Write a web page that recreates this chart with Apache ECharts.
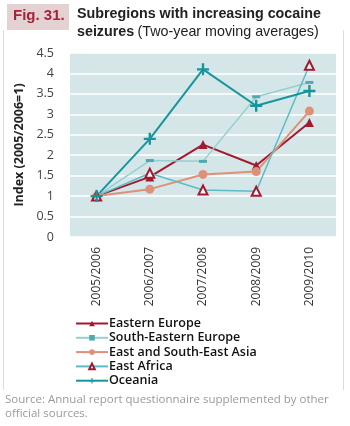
<!DOCTYPE html>
<html>
<head>
<meta charset="utf-8">
<script src="https://cdn.jsdelivr.net/npm/echarts@6/dist/echarts.min.js"></script>
<style>
    html, body { margin: 0; padding: 0; background: #fff; }
    #chart { width: 350px; height: 426px; }
</style>
</head>
<body>
<div id="chart"></div>
<script>
    // data
    var years = ['2005/2006', '2006/2007', '2007/2008', '2008/2009', '2009/2010'];
    var easternEurope = [1, 1.47, 2.26, 1.75, 2.80];
    var southEasternEurope = [1, 1.87, 1.85, 3.43, 3.78];
    var eastAsia = [1, 1.17, 1.53, 1.60, 3.08];
    var eastAfrica = [1, 1.56, 1.15, 1.12, 4.20];
    var oceania = [1, 2.40, 4.10, 3.21, 3.57];
    var yTicks = { min: 0, max: 4.5, interval: 0.5 };

    var plus = 'path://M-1.2,-6h2.4v4.8h4.8v2.4h-4.8v4.8h-2.4v-4.8h-4.8v-2.4h4.8z';

    var chart = echarts.init(document.getElementById('chart'));
    var option = {
        animation: false,
        textStyle: { fontFamily: 'Open Sans' },
        graphic: [
            // figure frame
            { type: 'line', shape: { x1: 3.5, y1: 30, x2: 3.5, y2: 390 }, style: { stroke: '#ddd', lineWidth: 1 } },
            { type: 'line', shape: { x1: 343.5, y1: 30, x2: 343.5, y2: 390 }, style: { stroke: '#ddd', lineWidth: 1 } },
            { type: 'rect', shape: { x: 7, y: 4, width: 62, height: 26 }, style: { fill: '#e3d2d1' } },
            { type: 'text', left: 13, top: 8, style: { text: 'Fig. 31.', font: 'bold 15px "Liberation Sans"', fill: '#a8233a' } },
            { type: 'text', left: 77, top: 7, style: { text: 'Subregions with increasing cocaine', font: 'bold 14.3px "Liberation Sans"', fill: '#222' } },
            {
                type: 'text', left: 77, top: 25,
                style: {
                    text: '{b|seizures} {n|(Two-year moving averages)}',
                    rich: {
                        b: { font: 'bold 14.3px "Liberation Sans"', fill: '#222' },
                        n: { font: '14.3px "Liberation Sans"', fill: '#222' }
                    }
                }
            },
            {
                type: 'text', left: 5, top: 393,
                style: {
                    text: 'Source: Annual report questionnaire supplemented by other\nofficial sources.',
                    font: '11.5px "Open Sans"', fill: '#9a9a9a', lineHeight: 14
                }
            }
        ],
        legend: {
            orient: 'vertical',
            left: 70,
            top: 312,
            itemWidth: 32,
            itemHeight: 7,
            itemGap: 1.3,
            textStyle: { fontSize: 12.5, fontWeight: 600, color: '#111', lineHeight: 12, padding: [0, 0, 0, -4] },
            data: ['Eastern Europe', 'South-Eastern Europe', 'East and South-East Asia', 'East Africa', 'Oceania']
        },
        grid: {
            left: 70, right: 14, top: 53, bottom: 189,
            show: true, backgroundColor: '#d5e6e9', borderWidth: 0
        },
        xAxis: {
            type: 'category',
            data: years,
            boundaryGap: true,
            axisLine: { show: false },
            axisTick: { show: false },
            axisLabel: { rotate: 90, color: '#333', fontSize: 12, margin: 10 }
        },
        yAxis: {
            type: 'value',
            min: yTicks.min,
            max: yTicks.max,
            interval: yTicks.interval,
            name: 'Index (2005/2006=1)',
            nameLocation: 'middle',
            nameGap: 36,
            nameTextStyle: { fontSize: 12.5, fontWeight: 'bold', color: '#222' },
            axisLine: { show: false },
            axisTick: { show: false },
            axisLabel: { color: '#444', fontSize: 12.5, margin: 16 },
            splitLine: { lineStyle: { color: '#fff', width: 1.5 } }
        },
        series: [{
            name: 'Eastern Europe',
            type: 'line',
            data: easternEurope,
            symbol: 'triangle',
            symbolSize: 9,
            itemStyle: { color: '#a3192e' },
            lineStyle: { color: '#a3192e', width: 2 }
        }, {
            name: 'South-Eastern Europe',
            type: 'line',
            data: southEasternEurope,
            symbol: 'rect',
            symbolSize: [8, 3],
            itemStyle: { color: '#4faab0' },
            lineStyle: { color: '#96cfcf', width: 1.5 }
        }, {
            name: 'East and South-East Asia',
            type: 'line',
            data: eastAsia,
            symbol: 'circle',
            symbolSize: 9,
            itemStyle: { color: '#de9078' },
            lineStyle: { color: '#de9078', width: 2 }
        }, {
            name: 'East Africa',
            type: 'line',
            data: eastAfrica,
            symbol: 'emptyTriangle',
            symbolSize: 9,
            itemStyle: { color: '#a3192e', borderWidth: 1.5 },
            lineStyle: { color: '#5bbcc6', width: 1.5 }
        }, {
            name: 'Oceania',
            type: 'line',
            data: oceania,
            symbol: plus,
            symbolSize: 12,
            itemStyle: { color: '#16969c' },
            lineStyle: { color: '#16969c', width: 2 }
        }]
    };
    chart.setOption(option);
</script>
</body>
</html>
